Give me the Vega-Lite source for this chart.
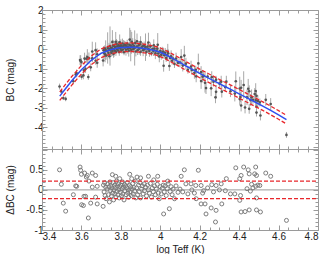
{
  "$schema": "https://vega.github.io/schema/vega-lite/v6.json",
  "padding": {"left": 5, "top": 5, "right": 5, "bottom": 0},
  "spacing": 0,
  "bounds": "flush",
  "config": {
    "view": {"stroke": null},
    "font": "Liberation Sans",
    "axis": {
      "grid": false,
      "domainColor": "#9a9a9a",
      "tickColor": "#9a9a9a",
      "labelColor": "#222222",
      "titleColor": "#222222",
      "labelFont": "Liberation Sans",
      "titleFont": "Liberation Sans",
      "labelFontSize": 10,
      "titleFontSize": 10,
      "titleFontWeight": "normal",
      "labelOverlap": false
    }
  },
  "datasets": {
    "stars": [
      {"t":3.489,"bc":-1.91,"e":0.15,"d":0.50},{"t":3.498,"bc":-2.16,"e":0.12,"d":0.14},{"t":3.508,"bc":-2.50,"e":0.10,"d":-0.33},{"t":3.52,"bc":-2.54,"e":0.12,"d":-0.53},
      {"t":3.559,"bc":-1.64,"e":0.15,"d":-0.12},{"t":3.571,"bc":-1.29,"e":0.12,"d":0.10},{"t":3.576,"bc":-1.24,"e":0.2,"d":0.09},{"t":3.593,"bc":-0.56,"e":0.25,"d":0.57},
      {"t":3.596,"bc":-0.61,"e":0.3,"d":0.49},{"t":3.60,"bc":-0.66,"e":0.2,"d":0.39},{"t":3.616,"bc":-0.48,"e":0.3,"d":0.42},{"t":3.625,"bc":-0.49,"e":0.2,"d":0.32},
      {"t":3.63,"bc":-0.40,"e":0.4,"d":0.36},{"t":3.613,"bc":-1.08,"e":0.15,"d":-0.16},{"t":3.61,"bc":-1.34,"e":0.2,"d":-0.39},{"t":3.601,"bc":-1.41,"e":0.15,"d":-0.37},
      {"t":3.621,"bc":-1.01,"e":0.2,"d":-0.16},{"t":3.635,"bc":-1.42,"e":0.15,"d":-0.70},{"t":3.647,"bc":-0.93,"e":0.2,"d":-0.33},{"t":3.655,"bc":-0.12,"e":0.5,"d":0.42},
      {"t":3.672,"bc":-0.05,"e":0.4,"d":0.36},{"t":3.638,"bc":-0.47,"e":0.3,"d":0.22},{"t":3.655,"bc":-0.47,"e":0.2,"d":0.07},{"t":3.68,"bc":-0.26,"e":0.3,"d":0.09},
      {"t":3.672,"bc":-0.59,"e":0.2,"d":-0.18},{"t":3.68,"bc":-0.70,"e":0.25,"d":-0.35},{"t":3.71,"bc":-0.58,"e":0.3,"d":-0.41},{"t":3.72,"bc":-0.27,"e":0.4,"d":-0.14},
      {"t":3.723,"bc":-0.05,"e":0.5,"d":0.07},{"t":3.757,"bc":0.37,"e":0.6,"d":0.38},{"t":3.774,"bc":0.38,"e":0.5,"d":0.34},{"t":3.794,"bc":0.35,"e":0.4,"d":0.28},
      {"t":3.845,"bc":0.49,"e":0.6,"d":0.39},{"t":3.855,"bc":0.38,"e":0.5,"d":0.28},
      {"t":3.712,"bc":-0.05,"e":0.2,"d":0.12},{"t":3.715,"bc":-0.20,"e":0.3,"d":-0.05},{"t":3.718,"bc":0.04,"e":0.15,"d":0.18},{"t":3.725,"bc":-0.33,"e":0.2,"d":-0.22},
      {"t":3.73,"bc":-0.08,"e":0.25,"d":0.02},{"t":3.733,"bc":0.06,"e":0.8,"d":0.15},{"t":3.737,"bc":-0.19,"e":0.2,"d":-0.12},{"t":3.74,"bc":0.02,"e":0.3,"d":0.08},
      {"t":3.742,"bc":-0.36,"e":0.15,"d":-0.30},{"t":3.745,"bc":0.16,"e":1.0,"d":0.20},{"t":3.748,"bc":-0.06,"e":0.2,"d":-0.02},{"t":3.75,"bc":0.07,"e":0.3,"d":0.10},
      {"t":3.752,"bc":-0.18,"e":0.2,"d":-0.15},{"t":3.755,"bc":0.04,"e":0.15,"d":0.05},{"t":3.758,"bc":-0.09,"e":0.25,"d":-0.08},{"t":3.76,"bc":0.18,"e":0.3,"d":0.18},
      {"t":3.763,"bc":-0.24,"e":0.2,"d":-0.25},{"t":3.765,"bc":0.01,"e":0.4,"d":0.0},{"t":3.768,"bc":0.14,"e":0.2,"d":0.12},{"t":3.77,"bc":-0.08,"e":0.15,"d":-0.10},
      {"t":3.772,"bc":0.09,"e":0.3,"d":0.06},{"t":3.775,"bc":-0.14,"e":0.2,"d":-0.18},{"t":3.778,"bc":0.27,"e":0.25,"d":0.22},{"t":3.78,"bc":0.01,"e":0.2,"d":-0.04},
      {"t":3.782,"bc":0.15,"e":0.3,"d":0.10},{"t":3.785,"bc":-0.06,"e":0.15,"d":-0.12},{"t":3.788,"bc":0.21,"e":0.2,"d":0.15},{"t":3.79,"bc":0.07,"e":0.3,"d":0.0},
      {"t":3.792,"bc":-0.14,"e":0.2,"d":-0.20},{"t":3.795,"bc":0.15,"e":0.25,"d":0.08},{"t":3.798,"bc":0.02,"e":0.2,"d":-0.06},{"t":3.80,"bc":0.20,"e":0.3,"d":0.12},
      {"t":3.803,"bc":-0.07,"e":0.15,"d":-0.15},{"t":3.806,"bc":0.12,"e":0.2,"d":0.03},{"t":3.808,"bc":0.29,"e":0.25,"d":0.20},{"t":3.81,"bc":-0.02,"e":0.2,"d":-0.10},
      {"t":3.813,"bc":0.16,"e":0.3,"d":0.07},{"t":3.816,"bc":-0.16,"e":0.15,"d":-0.25},{"t":3.818,"bc":0.23,"e":0.2,"d":0.14},{"t":3.82,"bc":0.07,"e":0.25,"d":-0.02},
      {"t":3.823,"bc":0.19,"e":0.2,"d":0.10},{"t":3.826,"bc":-0.03,"e":0.3,"d":-0.12},{"t":3.83,"bc":0.15,"e":0.15,"d":0.05},{"t":3.832,"bc":0.28,"e":0.2,"d":0.18},
      {"t":3.835,"bc":0.02,"e":0.25,"d":-0.08},{"t":3.838,"bc":0.10,"e":0.2,"d":0.0},{"t":3.84,"bc":-0.08,"e":0.3,"d":-0.18},{"t":3.843,"bc":0.22,"e":0.15,"d":0.12},
      {"t":3.846,"bc":0.05,"e":0.2,"d":-0.05},{"t":3.85,"bc":0.18,"e":0.8,"d":0.08},{"t":3.853,"bc":-0.04,"e":0.2,"d":-0.14},{"t":3.856,"bc":0.12,"e":0.25,"d":0.02},
      {"t":3.86,"bc":0.26,"e":0.3,"d":0.16},{"t":3.863,"bc":0.0,"e":0.2,"d":-0.10},{"t":3.866,"bc":0.16,"e":0.15,"d":0.06},{"t":3.87,"bc":0.06,"e":0.9,"d":-0.03},
      {"t":3.873,"bc":0.31,"e":0.2,"d":0.22},{"t":3.876,"bc":-0.12,"e":0.25,"d":-0.20},
      {"t":3.882,"bc":0.40,"e":0.4,"d":0.32},{"t":3.90,"bc":0.36,"e":0.3,"d":0.30},{"t":3.94,"bc":0.34,"e":0.5,"d":0.34},{"t":3.967,"bc":0.20,"e":0.3,"d":0.25},
      {"t":3.987,"bc":0.22,"e":0.6,"d":0.34},{"t":4.038,"bc":-0.13,"e":0.4,"d":0.22},{"t":3.88,"bc":0.13,"e":0.2,"d":0.05},{"t":3.885,"bc":-0.05,"e":0.25,"d":-0.12},
      {"t":3.89,"bc":0.19,"e":0.2,"d":0.12},{"t":3.893,"bc":0.02,"e":0.3,"d":-0.05},{"t":3.897,"bc":0.25,"e":0.15,"d":0.18},{"t":3.90,"bc":-0.14,"e":0.2,"d":-0.20},
      {"t":3.905,"bc":0.08,"e":0.25,"d":0.02},{"t":3.91,"bc":0.15,"e":0.2,"d":0.10},{"t":3.913,"bc":-0.06,"e":0.3,"d":-0.10},{"t":3.918,"bc":0.19,"e":0.2,"d":0.15},
      {"t":3.92,"bc":0.01,"e":0.15,"d":-0.02},{"t":3.925,"bc":0.10,"e":0.7,"d":0.07},{"t":3.93,"bc":-0.14,"e":0.2,"d":-0.15},{"t":3.935,"bc":0.13,"e":0.25,"d":0.12},
      {"t":3.94,"bc":0.0,"e":0.2,"d":0.0},{"t":3.945,"bc":-0.09,"e":0.3,"d":-0.08},{"t":3.95,"bc":0.14,"e":0.2,"d":0.16},{"t":3.955,"bc":-0.21,"e":0.15,"d":-0.18},
      {"t":3.96,"bc":0.01,"e":0.2,"d":0.05},{"t":3.965,"bc":-0.10,"e":0.25,"d":-0.05},{"t":3.97,"bc":0.03,"e":0.2,"d":0.10},{"t":3.975,"bc":-0.21,"e":0.3,"d":-0.12},
      {"t":3.98,"bc":-0.08,"e":0.2,"d":0.02},{"t":3.985,"bc":0.03,"e":0.25,"d":0.14},{"t":3.99,"bc":-0.22,"e":0.2,"d":-0.08},{"t":3.995,"bc":-0.37,"e":0.3,"d":-0.22},
      {"t":4.0,"bc":-0.09,"e":0.2,"d":0.08},{"t":4.005,"bc":-0.29,"e":0.25,"d":-0.10},{"t":4.01,"bc":-0.18,"e":0.3,"d":0.04},{"t":4.015,"bc":-0.12,"e":0.2,"d":0.12},
      {"t":4.017,"bc":-0.85,"e":0.3,"d":-0.60},{"t":4.02,"bc":-0.31,"e":0.2,"d":-0.05},{"t":4.025,"bc":-0.19,"e":0.25,"d":0.10},{"t":4.03,"bc":-0.45,"e":0.2,"d":-0.14},
      {"t":4.035,"bc":-0.31,"e":0.3,"d":0.03},{"t":4.04,"bc":-0.21,"e":0.2,"d":0.15},{"t":4.046,"bc":-0.86,"e":0.25,"d":-0.47},{"t":4.05,"bc":-0.45,"e":0.2,"d":-0.04},
      {"t":4.055,"bc":-0.36,"e":0.3,"d":0.08},{"t":4.06,"bc":-0.59,"e":0.2,"d":-0.12},{"t":4.065,"bc":-0.48,"e":0.25,"d":0.02},{"t":4.072,"bc":-0.76,"e":0.2,"d":-0.22},
      {"t":4.08,"bc":-0.48,"e":0.3,"d":0.10},{"t":4.09,"bc":-0.70,"e":0.2,"d":-0.06},{"t":4.10,"bc":-0.68,"e":0.25,"d":0.02},{"t":4.106,"bc":-0.40,"e":0.4,"d":0.34},
      {"t":4.114,"bc":-0.84,"e":0.3,"d":-0.05},{"t":4.122,"bc":-0.33,"e":0.5,"d":0.50},{"t":4.13,"bc":-0.74,"e":0.3,"d":0.15},{"t":4.14,"bc":-1.05,"e":0.2,"d":-0.10},
      {"t":4.156,"bc":-0.89,"e":0.3,"d":0.15},{"t":4.16,"bc":-1.06,"e":0.25,"d":0.0},{"t":4.173,"bc":-1.21,"e":0.3,"d":-0.08},{"t":4.18,"bc":-1.05,"e":0.2,"d":0.11},
      {"t":4.182,"bc":-1.39,"e":0.3,"d":-0.22},{"t":4.193,"bc":-0.73,"e":0.5,"d":0.49},{"t":4.207,"bc":-1.17,"e":0.3,"d":0.11},{"t":4.207,"bc":-1.63,"e":0.4,"d":-0.35},
      {"t":4.215,"bc":-1.40,"e":0.3,"d":-0.08},{"t":4.22,"bc":-1.36,"e":0.25,"d":-0.02},{"t":4.227,"bc":-1.72,"e":0.5,"d":-0.35},{"t":4.232,"bc":-1.99,"e":0.3,"d":-0.60},
      {"t":4.24,"bc":-1.40,"e":0.2,"d":0.05},{"t":4.258,"bc":-2.00,"e":0.4,"d":-0.45},{"t":4.261,"bc":-1.43,"e":0.3,"d":0.13},{"t":4.27,"bc":-1.66,"e":0.25,"d":-0.05},
      {"t":4.28,"bc":-2.46,"e":0.3,"d":-0.80},{"t":4.283,"bc":-1.56,"e":0.2,"d":0.11},{"t":4.283,"bc":-2.18,"e":0.35,"d":-0.51},{"t":4.30,"bc":-1.76,"e":0.2,"d":0.0},
      {"t":4.309,"bc":-1.66,"e":0.3,"d":0.15},{"t":4.312,"bc":-2.17,"e":0.3,"d":-0.35},
      {"t":4.33,"bc":-1.94,"e":0.2,"d":-0.02},{"t":4.335,"bc":-1.66,"e":0.3,"d":0.28},{"t":4.356,"bc":-2.15,"e":0.3,"d":-0.10},{"t":4.378,"bc":-2.27,"e":0.4,"d":-0.10},
      {"t":4.383,"bc":-1.64,"e":0.5,"d":0.55},{"t":4.403,"bc":-2.01,"e":0.6,"d":0.28},{"t":4.403,"bc":-2.55,"e":0.3,"d":-0.26},{"t":4.407,"bc":-2.45,"e":0.25,"d":-0.14},
      {"t":4.41,"bc":-1.97,"e":0.4,"d":0.36},{"t":4.41,"bc":-2.88,"e":0.3,"d":-0.55},{"t":4.423,"bc":-1.83,"e":0.7,"d":0.57},{"t":4.43,"bc":-2.98,"e":0.3,"d":-0.54},
      {"t":4.44,"bc":-2.46,"e":0.4,"d":0.03},{"t":4.446,"bc":-2.02,"e":0.5,"d":0.50},{"t":4.451,"bc":-2.15,"e":0.3,"d":0.40},{"t":4.451,"bc":-3.05,"e":0.25,"d":-0.50},
      {"t":4.457,"bc":-2.60,"e":0.3,"d":-0.03},{"t":4.463,"bc":-2.46,"e":0.4,"d":0.14},{"t":4.47,"bc":-2.59,"e":0.2,"d":0.05},{"t":4.479,"bc":-2.29,"e":0.3,"d":0.40},
      {"t":4.484,"bc":-2.14,"e":0.4,"d":0.57},{"t":4.484,"bc":-2.62,"e":0.3,"d":0.09},{"t":4.488,"bc":-2.38,"e":0.25,"d":0.36},{"t":4.488,"bc":-2.94,"e":0.3,"d":-0.20},
      {"t":4.488,"bc":-3.24,"e":0.2,"d":-0.50},{"t":4.495,"bc":-2.65,"e":0.3,"d":0.12},{"t":4.505,"bc":-2.72,"e":0.2,"d":0.11},{"t":4.508,"bc":-3.39,"e":0.25,"d":-0.55},
      {"t":4.535,"bc":-2.59,"e":0.3,"d":0.42},{"t":4.56,"bc":-2.80,"e":0.3,"d":0.34},{"t":4.64,"bc":-4.38,"e":0.15,"d":-0.76}
    ],
    "fit": [
      {"t":3.49,"f":-2.40,"u":-2.18,"l":-2.62},{"t":3.50,"f":-2.27,"u":-2.05,"l":-2.49},{"t":3.52,"f":-2.01,"u":-1.79,"l":-2.23},
      {"t":3.55,"f":-1.63,"u":-1.41,"l":-1.85},{"t":3.58,"f":-1.28,"u":-1.06,"l":-1.50},{"t":3.60,"f":-1.05,"u":-0.83,"l":-1.27},
      {"t":3.62,"f":-0.86,"u":-0.64,"l":-1.08},{"t":3.65,"f":-0.57,"u":-0.35,"l":-0.79},{"t":3.68,"f":-0.35,"u":-0.13,"l":-0.57},
      {"t":3.70,"f":-0.21,"u":0.01,"l":-0.43},{"t":3.72,"f":-0.13,"u":0.09,"l":-0.35},{"t":3.74,"f":-0.06,"u":0.16,"l":-0.28},
      {"t":3.76,"f":0.00,"u":0.22,"l":-0.22},{"t":3.78,"f":0.05,"u":0.27,"l":-0.17},{"t":3.80,"f":0.08,"u":0.30,"l":-0.14},
      {"t":3.82,"f":0.09,"u":0.31,"l":-0.13},{"t":3.84,"f":0.10,"u":0.32,"l":-0.12},{"t":3.86,"f":0.10,"u":0.32,"l":-0.12},
      {"t":3.88,"f":0.08,"u":0.30,"l":-0.14},{"t":3.90,"f":0.06,"u":0.28,"l":-0.16},{"t":3.92,"f":0.03,"u":0.25,"l":-0.19},
      {"t":3.94,"f":0.00,"u":0.22,"l":-0.22},{"t":3.96,"f":-0.04,"u":0.18,"l":-0.26},{"t":3.98,"f":-0.09,"u":0.13,"l":-0.31},
      {"t":4.00,"f":-0.16,"u":0.06,"l":-0.38},{"t":4.02,"f":-0.25,"u":-0.03,"l":-0.47},{"t":4.04,"f":-0.35,"u":-0.13,"l":-0.57},
      {"t":4.06,"f":-0.46,"u":-0.24,"l":-0.68},{"t":4.08,"f":-0.57,"u":-0.35,"l":-0.79},{"t":4.10,"f":-0.68,"u":-0.46,"l":-0.90},
      {"t":4.12,"f":-0.80,"u":-0.58,"l":-1.02},{"t":4.14,"f":-0.91,"u":-0.69,"l":-1.13},{"t":4.16,"f":-1.02,"u":-0.80,"l":-1.24},
      {"t":4.18,"f":-1.13,"u":-0.91,"l":-1.35},{"t":4.20,"f":-1.24,"u":-1.02,"l":-1.46},{"t":4.24,"f":-1.45,"u":-1.23,"l":-1.67},
      {"t":4.28,"f":-1.66,"u":-1.44,"l":-1.88},{"t":4.32,"f":-1.87,"u":-1.65,"l":-2.09},{"t":4.36,"f":-2.07,"u":-1.85,"l":-2.29},
      {"t":4.40,"f":-2.28,"u":-2.06,"l":-2.50},{"t":4.44,"f":-2.49,"u":-2.27,"l":-2.71},{"t":4.48,"f":-2.70,"u":-2.48,"l":-2.92},
      {"t":4.52,"f":-2.91,"u":-2.69,"l":-3.13},{"t":4.56,"f":-3.13,"u":-2.91,"l":-3.35},{"t":4.60,"f":-3.36,"u":-3.14,"l":-3.58},
      {"t":4.64,"f":-3.60,"u":-3.38,"l":-3.82}
    ],
    "refs": [
      {"t":3.4,"y":0,"g":"zero"},{"t":4.8,"y":0,"g":"zero"},
      {"t":3.4,"y":0.22,"g":"up"},{"t":4.8,"y":0.22,"g":"up"},
      {"t":3.4,"y":-0.22,"g":"lo"},{"t":4.8,"y":-0.22,"g":"lo"}
    ]
  },
  "vconcat": [
    {
      "width": 276,
      "height": 139,
      "resolve": {"axis": {"x": "independent", "y": "independent"}},
      "layer": [
        {
          "data": {"name": "stars"},
          "mark": {"type": "errorbar", "color": "#a8a8a8"},
          "encoding": {
            "x": {"field": "t", "type": "quantitative", "scale": {"domain": [3.4, 4.8]}, "axis": null},
            "y": {"field": "bc", "type": "quantitative", "scale": {"domain": [-5.1, 2]}, "axis": null},
            "yError": {"field": "e"}
          }
        },
        {
          "data": {"name": "stars"},
          "mark": {"type": "circle", "size": 7, "color": "#555555", "opacity": 1},
          "encoding": {
            "x": {"field": "t", "type": "quantitative", "scale": {"domain": [3.4, 4.8]},
              "axis": {"orient": "bottom", "title": null, "labels": false,
                "values": [3.4,3.45,3.5,3.55,3.6,3.65,3.7,3.75,3.8,3.85,3.9,3.95,4,4.05,4.1,4.15,4.2,4.25,4.3,4.35,4.4,4.45,4.5,4.55,4.6,4.65,4.7,4.75,4.8],
                "tickSize": {"condition": {"test": "abs(datum.value*5 - round(datum.value*5)) < 0.01", "value": -5}, "value": -3}}},
            "y": {"field": "bc", "type": "quantitative", "scale": {"domain": [-5.1, 2]},
              "axis": {"orient": "left", "title": "BC (mag)", "titleX": -32, "titleBaseline": "middle",
                "values": [-5,-4.8,-4.6,-4.4,-4.2,-4,-3.8,-3.6,-3.4,-3.2,-3,-2.8,-2.6,-2.4,-2.2,-2,-1.8,-1.6,-1.4,-1.2,-1,-0.8,-0.6,-0.4,-0.2,0,0.2,0.4,0.6,0.8,1,1.2,1.4,1.6,1.8,2],
                "labelExpr": "abs(datum.value - round(datum.value)) < 0.01 && datum.value > -4.5 ? '' + round(datum.value) : ''",
                "labelPadding": 4,
                "tickSize": {"condition": {"test": "abs(datum.value - round(datum.value)) < 0.01", "value": -5}, "value": -3}}}
          }
        },
        {
          "data": {"name": "fit"},
          "mark": {"type": "line", "color": "#2f4ff0", "strokeWidth": 1.5},
          "encoding": {
            "x": {"field": "t", "type": "quantitative", "scale": {"domain": [3.4, 4.8]},
              "axis": {"orient": "top", "title": null, "labels": false,
                "values": [3.4,3.45,3.5,3.55,3.6,3.65,3.7,3.75,3.8,3.85,3.9,3.95,4,4.05,4.1,4.15,4.2,4.25,4.3,4.35,4.4,4.45,4.5,4.55,4.6,4.65,4.7,4.75,4.8],
                "tickSize": {"condition": {"test": "abs(datum.value*5 - round(datum.value*5)) < 0.01", "value": -5}, "value": -3}}},
            "y": {"field": "f", "type": "quantitative", "scale": {"domain": [-5.1, 2]},
              "axis": {"orient": "right", "title": null, "labels": false,
                "values": [-5,-4.8,-4.6,-4.4,-4.2,-4,-3.8,-3.6,-3.4,-3.2,-3,-2.8,-2.6,-2.4,-2.2,-2,-1.8,-1.6,-1.4,-1.2,-1,-0.8,-0.6,-0.4,-0.2,0,0.2,0.4,0.6,0.8,1,1.2,1.4,1.6,1.8,2],
                "tickSize": {"condition": {"test": "abs(datum.value - round(datum.value)) < 0.01", "value": -5}, "value": -3}}}
          }
        },
        {
          "data": {"name": "fit"},
          "mark": {"type": "line", "color": "#e8262b", "strokeWidth": 1.3, "strokeDash": [4, 2]},
          "encoding": {
            "x": {"field": "t", "type": "quantitative", "scale": {"domain": [3.4, 4.8]}, "axis": null},
            "y": {"field": "u", "type": "quantitative", "scale": {"domain": [-5.1, 2]}, "axis": null}
          }
        },
        {
          "data": {"name": "fit"},
          "mark": {"type": "line", "color": "#e8262b", "strokeWidth": 1.3, "strokeDash": [4, 2]},
          "encoding": {
            "x": {"field": "t", "type": "quantitative", "scale": {"domain": [3.4, 4.8]}, "axis": null},
            "y": {"field": "l", "type": "quantitative", "scale": {"domain": [-5.1, 2]}, "axis": null}
          }
        }
      ]
    },
    {
      "width": 276,
      "height": 81,
      "resolve": {"axis": {"x": "independent", "y": "independent"}},
      "layer": [
        {
          "data": {"name": "refs"},
          "transform": [{"filter": "datum.g == 'zero'"}],
          "mark": {"type": "line", "color": "#9a9a9a", "strokeWidth": 1},
          "encoding": {
            "x": {"field": "t", "type": "quantitative", "scale": {"domain": [3.4, 4.8]},
              "axis": {"orient": "top", "title": null, "labels": false,
                "values": [3.4,3.45,3.5,3.55,3.6,3.65,3.7,3.75,3.8,3.85,3.9,3.95,4,4.05,4.1,4.15,4.2,4.25,4.3,4.35,4.4,4.45,4.5,4.55,4.6,4.65,4.7,4.75,4.8],
                "tickSize": {"condition": {"test": "abs(datum.value*5 - round(datum.value*5)) < 0.01", "value": -5}, "value": -3}}},
            "y": {"field": "y", "type": "quantitative", "scale": {"domain": [-1, 1.02]},
              "axis": {"orient": "right", "title": null, "labels": false,
                "values": [-1,-0.9,-0.8,-0.7,-0.6,-0.5,-0.4,-0.3,-0.2,-0.1,0,0.1,0.2,0.3,0.4,0.5,0.6,0.7,0.8,0.9,1],
                "tickSize": {"condition": {"test": "abs(datum.value*2 - round(datum.value*2)) < 0.01", "value": -5}, "value": -3}}}
          }
        },
        {
          "data": {"name": "stars"},
          "mark": {"type": "point", "shape": "circle", "filled": false, "size": 16, "color": "#7c7c7c", "strokeWidth": 1, "opacity": 1},
          "encoding": {
            "x": {"field": "t", "type": "quantitative", "scale": {"domain": [3.4, 4.8]},
              "axis": {"orient": "bottom", "title": "log Teff (K)", "titlePadding": 1, "labelPadding": 6,
                "values": [3.4,3.45,3.5,3.55,3.6,3.65,3.7,3.75,3.8,3.85,3.9,3.95,4,4.05,4.1,4.15,4.2,4.25,4.3,4.35,4.4,4.45,4.5,4.55,4.6,4.65,4.7,4.75,4.8],
                "labelExpr": "abs(datum.value*5 - round(datum.value*5)) < 0.01 ? '' + datum.value : ''",
                "tickSize": {"condition": {"test": "abs(datum.value*5 - round(datum.value*5)) < 0.01", "value": -5}, "value": -3}}},
            "y": {"field": "d", "type": "quantitative", "scale": {"domain": [-1, 1.02]},
              "axis": {"orient": "left", "title": "ΔBC (mag)", "titleX": -32, "titleBaseline": "middle", "labelPadding": 4,
                "values": [-1,-0.9,-0.8,-0.7,-0.6,-0.5,-0.4,-0.3,-0.2,-0.1,0,0.1,0.2,0.3,0.4,0.5,0.6,0.7,0.8,0.9,1],
                "labelExpr": "abs(datum.value*2 - round(datum.value*2)) < 0.01 && datum.value < 0.9 ? '' + datum.value : ''",
                "tickSize": {"condition": {"test": "abs(datum.value*2 - round(datum.value*2)) < 0.01", "value": -5}, "value": -3}}}
          }
        },
        {
          "data": {"name": "refs"},
          "transform": [{"filter": "datum.g == 'up'"}],
          "mark": {"type": "line", "color": "#e8262b", "strokeWidth": 1.3, "strokeDash": [4, 2]},
          "encoding": {
            "x": {"field": "t", "type": "quantitative", "scale": {"domain": [3.4, 4.8]}, "axis": null},
            "y": {"field": "y", "type": "quantitative", "scale": {"domain": [-1, 1.02]}, "axis": null}
          }
        },
        {
          "data": {"name": "refs"},
          "transform": [{"filter": "datum.g == 'lo'"}],
          "mark": {"type": "line", "color": "#e8262b", "strokeWidth": 1.3, "strokeDash": [4, 2]},
          "encoding": {
            "x": {"field": "t", "type": "quantitative", "scale": {"domain": [3.4, 4.8]}, "axis": null},
            "y": {"field": "y", "type": "quantitative", "scale": {"domain": [-1, 1.02]}, "axis": null}
          }
        }
      ]
    }
  ]
}
